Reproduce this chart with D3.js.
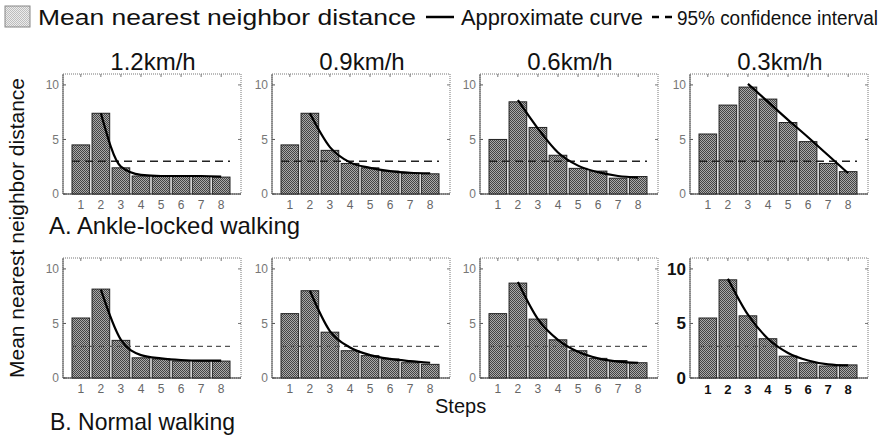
<!DOCTYPE html>
<html>
<head>
<meta charset="utf-8">
<script src="https://cdn.jsdelivr.net/npm/d3@7"></script>
<style>
  body { margin: 0; background: #fff; }
  svg { display: block; font-family: "Liberation Sans", Arial, sans-serif; }
</style>
</head>
<body>
<script>
// ---- data ----
var steps = [1, 2, 3, 4, 5, 6, 7, 8];
var speeds = ["1.2km/h", "0.9km/h", "0.6km/h", "0.3km/h"];
var yTicks = [0, 5, 10];

// A. Ankle-locked walking
var ankleBars = [
    [4.5, 7.4, 2.4, 1.65, 1.6, 1.6, 1.6, 1.55],
    [4.5, 7.4, 4.0, 2.8, 2.4, 2.1, 1.9, 1.85],
    [5.0, 8.45, 6.1, 3.55, 2.35, 2.1, 1.45, 1.6],
    [5.5, 8.15, 9.8, 8.7, 6.55, 4.8, 2.8, 2.05]
];
var ankleCurveStart = [2, 2, 2, 3];
var ankleCurve = [
    [7.4, 2.5, 1.75, 1.65, 1.65, 1.65, 1.6],
    [7.4, 4.3, 2.9, 2.4, 2.1, 1.95, 1.9],
    [8.6, 6.0, 3.8, 2.6, 2.0, 1.65, 1.5],
    [10.1, 8.45, 6.8, 5.2, 3.55, 1.9]
];
var ankleCI = [3.0, 3.0, 3.0, 3.0];

// B. Normal walking
var normalBars = [
    [5.5, 8.15, 3.45, 1.85, 1.75, 1.55, 1.55, 1.55],
    [5.9, 8.0, 4.2, 2.5, 2.05, 1.75, 1.4, 1.25],
    [5.9, 8.7, 5.4, 3.5, 2.5, 1.8, 1.6, 1.4],
    [5.5, 9.0, 5.7, 3.6, 2.0, 1.4, 1.1, 1.2]
];
var normalCurveStart = [2, 2, 2, 2];
var normalCurve = [
    [8.1, 3.5, 2.1, 1.8, 1.65, 1.6, 1.6],
    [8.0, 4.3, 2.8, 2.1, 1.75, 1.55, 1.4],
    [8.8, 5.4, 3.5, 2.4, 1.8, 1.5, 1.4],
    [9.1, 5.8, 3.6, 2.3, 1.6, 1.25, 1.15]
];
var normalCI = [2.9, 2.9, 2.9, 2.9];

// ---- layout ----
var width = 885, height = 439;
var panelLeft = [63, 272, 480, 690],
    panelW = 178;

var svg = d3.select('body').append('svg')
    .attr('width', width)
    .attr('height', height);

// dithered fills
var defs = svg.append('defs');
function checker(id, a, b) {
    var p = defs.append('pattern').attr('id', id)
        .attr('width', 2).attr('height', 2)
        .attr('patternUnits', 'userSpaceOnUse');
    p.append('rect').attr('width', 2).attr('height', 2).attr('fill', b);
    p.append('rect').attr('width', 1).attr('height', 1).attr('fill', a);
    p.append('rect').attr('x', 1).attr('y', 1).attr('width', 1).attr('height', 1).attr('fill', a);
}
checker('barFill', '#444', '#aaa');
checker('legFill', '#bdbdbd', '#ececec');

var yScaleA = d3.scaleLinear().domain([0, 11]).range([194, 74]);
var yScaleB = d3.scaleLinear().domain([0, 11]).range([378, 258]);

function drawPanel(i, bars, curveStart, curve, ci, yScale, rowB) {
    var left = panelLeft[i];
    var xScale = d3.scaleBand().domain(steps)
        .range([left + 9, left + 167]).paddingInner(0.12);
    var g = svg.append('g');
    var top = yScale.range()[1], bottom = yScale.range()[0];
    var bold = rowB && i === 3;

    // frame
    g.append('rect')
        .attr('x', left).attr('y', top)
        .attr('width', panelW).attr('height', bottom - top)
        .attr('fill', 'none')
        .attr('stroke', '#777')
        .attr('stroke-width', 1)
        .attr('stroke-dasharray', '1,1');
    g.append('line')
        .attr('x1', left).attr('x2', left + panelW)
        .attr('y1', bottom).attr('y2', bottom)
        .attr('stroke', '#333');
    g.append('line')
        .attr('x1', left).attr('x2', left)
        .attr('y1', top).attr('y2', bottom)
        .attr('stroke', '#555');

    // small ticks
    yTicks.forEach(function (t) {
        g.append('line').attr('x1', left).attr('x2', left + 3)
            .attr('y1', yScale(t)).attr('y2', yScale(t)).attr('stroke', '#555');
        g.append('line').attr('x1', left + panelW).attr('x2', left + panelW - 3)
            .attr('y1', yScale(t)).attr('y2', yScale(t)).attr('stroke', '#777');
    });
    steps.forEach(function (s) {
        var cx = xScale(s) + xScale.bandwidth() / 2;
        g.append('line').attr('x1', cx).attr('x2', cx)
            .attr('y1', top).attr('y2', top + 3).attr('stroke', '#777');
    });

    // y tick labels
    g.selectAll('.ylab').data(yTicks).enter().append('text')
        .attr('x', left - 4)
        .attr('y', function (d) { return yScale(d); })
        .attr('dy', '0.35em')
        .attr('text-anchor', 'end')
        .attr('font-size', bold ? 17 : 12)
        .attr('font-weight', bold ? 'bold' : 'normal')
        .attr('fill', bold ? '#111' : '#777')
        .text(function (d) { return d; });

    // x tick labels
    g.selectAll('.xlab').data(steps).enter().append('text')
        .attr('x', function (d) { return xScale(d) + xScale.bandwidth() / 2; })
        .attr('y', bottom + 11)
        .attr('dy', '0.35em')
        .attr('text-anchor', 'middle')
        .attr('font-size', bold ? 13 : 12)
        .attr('font-weight', bold ? 'bold' : 'normal')
        .attr('fill', bold ? '#111' : '#666')
        .text(function (d) { return d; });

    // bars
    g.selectAll('.bar').data(bars).enter().append('rect')
        .attr('x', function (d, j) { return xScale(steps[j]); })
        .attr('y', function (d) { return yScale(d); })
        .attr('width', xScale.bandwidth())
        .attr('height', function (d) { return bottom - yScale(d); })
        .attr('fill', 'url(#barFill)')
        .attr('stroke', '#222')
        .attr('stroke-width', 1);

    // confidence interval
    g.append('line')
        .attr('x1', xScale(1)).attr('x2', xScale(8) + xScale.bandwidth())
        .attr('y1', yScale(ci[i])).attr('y2', yScale(ci[i]))
        .attr('stroke', rowB ? '#555' : '#222')
        .attr('stroke-width', rowB ? 1.3 : 1.5)
        .attr('stroke-dasharray', rowB ? '5,4' : '8,5');

    // approximate curve
    var pts = curve.map(function (v, j) { return [curveStart[i] + j, v]; });
    var line = d3.line()
        .x(function (d) { return xScale(d[0]) + xScale.bandwidth() / 2; })
        .y(function (d) { return yScale(d[1]); })
        .curve(d3.curveMonotoneX);
    g.append('path')
        .attr('d', line(pts))
        .attr('fill', 'none')
        .attr('stroke', '#000')
        .attr('stroke-width', 2.2);

    // speed title
    if (!rowB) {
        g.append('text')
            .attr('x', left + panelW / 2 + 1)
            .attr('y', 70)
            .attr('text-anchor', 'middle')
            .attr('font-size', 24)
            .attr('fill', '#111')
            .text(speeds[i]);
    }
}

for (var i = 0; i < 4; i++) {
    drawPanel(i, ankleBars[i], ankleCurveStart, ankleCurve[i], ankleCI, yScaleA, false);
    drawPanel(i, normalBars[i], normalCurveStart, normalCurve[i], normalCI, yScaleB, true);
}

// row labels
svg.append('text').attr('x', 49).attr('y', 234)
    .attr('font-size', 24).attr('fill', '#111')
    .attr('textLength', 251).attr('lengthAdjust', 'spacingAndGlyphs')
    .text('A. Ankle-locked walking');
svg.append('text').attr('x', 50).attr('y', 430)
    .attr('font-size', 24).attr('fill', '#111')
    .attr('textLength', 185).attr('lengthAdjust', 'spacingAndGlyphs')
    .text('B. Normal walking');

// axis titles
svg.append('text').attr('x', 435).attr('y', 413)
    .attr('font-size', 20).attr('fill', '#111')
    .text('Steps');
svg.append('text')
    .attr('transform', 'translate(24,228) rotate(-90)')
    .attr('text-anchor', 'middle')
    .attr('font-size', 21).attr('fill', '#111')
    .text('Mean nearest neighbor distance');

// legend
var leg = svg.append('g');
leg.append('rect').attr('x', 5).attr('y', 6).attr('width', 25).attr('height', 21)
    .attr('fill', 'url(#legFill)').attr('stroke', '#888');
leg.append('text').attr('x', 38).attr('y', 25)
    .attr('font-size', 22).attr('fill', '#111')
    .attr('textLength', 378).attr('lengthAdjust', 'spacingAndGlyphs')
    .text('Mean nearest neighbor distance');
leg.append('line').attr('x1', 426).attr('x2', 454).attr('y1', 17).attr('y2', 17)
    .attr('stroke', '#000').attr('stroke-width', 2.5);
leg.append('text').attr('x', 461).attr('y', 25)
    .attr('font-size', 22).attr('fill', '#111')
    .attr('textLength', 182).attr('lengthAdjust', 'spacingAndGlyphs')
    .text('Approximate curve');
leg.append('line').attr('x1', 652).attr('x2', 672).attr('y1', 17).attr('y2', 17)
    .attr('stroke', '#000').attr('stroke-width', 2.5).attr('stroke-dasharray', '7,6');
leg.append('text').attr('x', 677).attr('y', 25)
    .attr('font-size', 19.5).attr('fill', '#111')
    .attr('textLength', 201).attr('lengthAdjust', 'spacingAndGlyphs')
    .text('95% confidence interval');
</script>
</body>
</html>
